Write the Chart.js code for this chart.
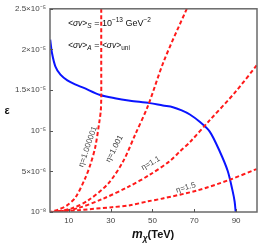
<!DOCTYPE html>
<html><head><meta charset="utf-8">
<script src="https://cdn.jsdelivr.net/npm/chart.js@4/dist/chart.umd.min.js"></script>
<style>html,body{margin:0;padding:0;background:#fff}canvas{display:block}</style>
</head><body>
<canvas id="c" width="260" height="245"></canvas>
<script>
const xTicks = [10, 30, 50, 70, 90];
const yTicks = [1e-8, 5e-6, 1e-5, 1.5e-5, 2e-5, 2.5e-5];
const yTickLabels = ["10⁻⁸", "5×10⁻⁶", "10⁻⁵", "1.5×10⁻⁵", "2×10⁻⁵", "2.5×10⁻⁵"];

const blueX = [1.1, 2.0, 3.6, 6, 9.3, 13, 16.9, 25, 32, 39.3, 48.8, 55, 59.8, 64, 67.9, 72.6, 77.4, 82.2, 86, 88.3, 89.3, 89.8];
const blueY = [2.12e-5, 1.95e-5, 1.79e-5, 1.69e-5, 1.62e-5, 1.57e-5, 1.53e-5, 1.44e-5, 1.40e-5, 1.37e-5, 1.34e-5, 1.31e-5, 1.29e-5, 1.25e-5, 1.20e-5, 1.11e-5, 0.99e-5, 0.745e-5, 0.505e-5, 0.264e-5, 0.13e-5, 0.0];

const eta1X = [25.5, 25.5, 25.5, 25.3, 24.6, 22.7, 20.5, 17.9, 13.2, 9, 5, 2.2, 1];
const eta1Y = [2.5e-5, 1.9e-5, 1.4e-5, 1.25e-5, 1.11e-5, 0.805e-5, 0.6e-5, 0.42e-5, 0.18e-5, 0.08e-5, 0.03e-5, 0.01e-5, 0];

const eta2X = [66.4, 55.5, 47.9, 41.7, 36.0, 28.8, 19.3, 11.7, 3.6, 1];
const eta2Y = [2.5e-5, 1.86e-5, 1.31e-5, 0.95e-5, 0.625e-5, 0.35e-5, 0.144e-5, 0.048e-5, 0.005e-5, 0];

const eta3X = [99.8, 89.3, 77.4, 67.9, 63.1, 58.4, 48.8, 38.4, 26.0, 14.6, 5.0, 1.5];
const eta3Y = [1.803e-5, 1.466e-5, 1.13e-5, 0.86e-5, 0.745e-5, 0.63e-5, 0.46e-5, 0.31e-5, 0.16e-5, 0.05e-5, 0.005e-5, 0];

const eta4X = [1.5, 14.6, 30.7, 39.3, 47.9, 55.0, 71.2, 86.9, 99.8];
const eta4Y = [0, 0.024e-5, 0.06e-5, 0.084e-5, 0.132e-5, 0.168e-5, 0.264e-5, 0.397e-5, 0.529e-5];

const etaLabels = ["η=1.000001", "η=1.001", "η=1.1", "η=1.5"];
const etaLabelX = [19.1, 31.8, 49.2, 66.0];
const etaLabelY = [0.805e-5, 0.78e-5, 0.6e-5, 0.3e-5];
const etaLabelAngle = [-71, -63, -30, -17];

function pts(xs, ys) { return xs.map((x, i) => ({x: x, y: ys[i]})); }

const red = '#ff1a1a';
const dash = [4, 2.5];

function runs(ctx, x, y, list) {
  let cx = x;
  for (const r of list) {
    ctx.font = r.f;
    ctx.fillText(r.t, cx, y + (r.dy || 0));
    cx += ctx.measureText(r.t).width;
  }
}

const annot = {
  id: 'annot',
  afterDatasetsDraw(chart) {
    const ctx = chart.ctx, a = chart.chartArea;
    const xs = chart.scales.x, ys = chart.scales.y;
    ctx.save();
    ctx.strokeStyle = '#6a6a6a';
    ctx.lineWidth = 1.5;
    ctx.strokeRect(a.left, a.top, a.right - a.left, a.bottom - a.top);
    ctx.lineWidth = 1;
    ctx.strokeStyle = '#555';
    ctx.beginPath();
    for (const t of xTicks) {
      const px = Math.round(xs.getPixelForValue(t)) + 0.5;
      ctx.moveTo(px, a.bottom); ctx.lineTo(px, a.bottom - 3);
    }
    for (const t of yTicks) {
      const py = Math.round(ys.getPixelForValue(t)) + 0.5;
      ctx.moveTo(a.left, py); ctx.lineTo(a.left + 3, py);
    }
    ctx.stroke();
    ctx.fillStyle = '#444';
    ctx.font = '8px "Liberation Sans", Arial, sans-serif';
    ctx.textAlign = 'center';
    ctx.textBaseline = 'middle';
    etaLabels.forEach((t, i) => {
      ctx.save();
      ctx.translate(xs.getPixelForValue(etaLabelX[i]), ys.getPixelForValue(etaLabelY[i]));
      ctx.rotate(etaLabelAngle[i] * Math.PI / 180);
      ctx.fillText(t, 0, 0);
      ctx.restore();
    });
    ctx.textAlign = 'left';
    ctx.textBaseline = 'alphabetic';
    ctx.fillStyle = '#111';
    const fi = 'italic 8.5px "Liberation Sans", Arial, sans-serif';
    const fn = '9px "Liberation Sans", Arial, sans-serif';
    const fs = '6.5px "Liberation Sans", Arial, sans-serif';
    const fsi = 'italic 6.5px "Liberation Sans", Arial, sans-serif';
    runs(ctx, 68, 26, [
      {t: '<σv>', f: fi}, {t: 'S', f: fsi, dy: 2}, {t: ' = 10', f: fn},
      {t: '−13', f: fs, dy: -4}, {t: ' GeV', f: fn}, {t: '−2', f: fs, dy: -4}
    ]);
    runs(ctx, 68, 48, [
      {t: '<σv>', f: fi}, {t: 'A', f: fsi, dy: 2}, {t: ' = ', f: fn},
      {t: '<σv>', f: fi}, {t: 'uni', f: fs, dy: 2}
    ]);
    ctx.fillStyle = '#111';
    ctx.font = 'bold 11px "Liberation Sans", Arial, sans-serif';
    ctx.textAlign = 'center';
    ctx.textBaseline = 'middle';
    ctx.fillText('ε', 7, 111);
    ctx.textAlign = 'left';
    ctx.textBaseline = 'alphabetic';
    runs(ctx, 132, 238, [
      {t: 'm', f: 'bold italic 12px "Liberation Sans", Arial, sans-serif'},
      {t: 'χ', f: 'bold italic 8.5px "Liberation Sans", Arial, sans-serif', dy: 3},
      {t: '(TeV)', f: 'bold 11px "Liberation Sans", Arial, sans-serif'}
    ]);
    ctx.restore();
  }
};

function redSet(xs, ys) {
  return {data: pts(xs, ys), borderColor: red, borderWidth: 2, borderDash: dash, pointRadius: 0, tension: 0.3, fill: false};
}

new Chart(document.getElementById('c'), {
  type: 'line',
  data: {
    datasets: [
      redSet(eta1X, eta1Y),
      redSet(eta2X, eta2Y),
      redSet(eta3X, eta3Y),
      redSet(eta4X, eta4Y),
      {data: pts(blueX, blueY), borderColor: '#0a14ff', borderWidth: 2, pointRadius: 0, tension: 0.3, fill: false}
    ]
  },
  options: {
    responsive: false,
    animation: false,
    events: [],
    layout: {padding: {top: 4, right: 3, left: 0, bottom: 0}},
    plugins: {legend: {display: false}, tooltip: {enabled: false}},
    scales: {
      x: {
        type: 'linear', min: 1, max: 100,
        afterBuildTicks(s) { s.ticks = xTicks.map(v => ({value: v})); },
        afterFit(s) { s.height = 33; },
        grid: {display: false, drawTicks: false},
        border: {display: false},
        ticks: {color: '#444', font: {size: 8, family: '"Liberation Sans", Arial, sans-serif'}, padding: 4, maxRotation: 0}
      },
      y: {
        type: 'linear', min: 1e-8, max: 2.5e-5,
        afterBuildTicks(s) { s.ticks = yTicks.map(v => ({value: v})); },
        afterFit(s) { s.width = 50; },
        grid: {display: false, drawTicks: false},
        border: {display: false},
        ticks: {
          color: '#444', font: {size: 8, family: '"Liberation Sans", Arial, sans-serif'}, padding: 4,
          callback(v) { const i = yTicks.indexOf(v); return i >= 0 ? yTickLabels[i] : ''; }
        }
      }
    }
  },
  plugins: [annot]
});
</script>
</body></html>
